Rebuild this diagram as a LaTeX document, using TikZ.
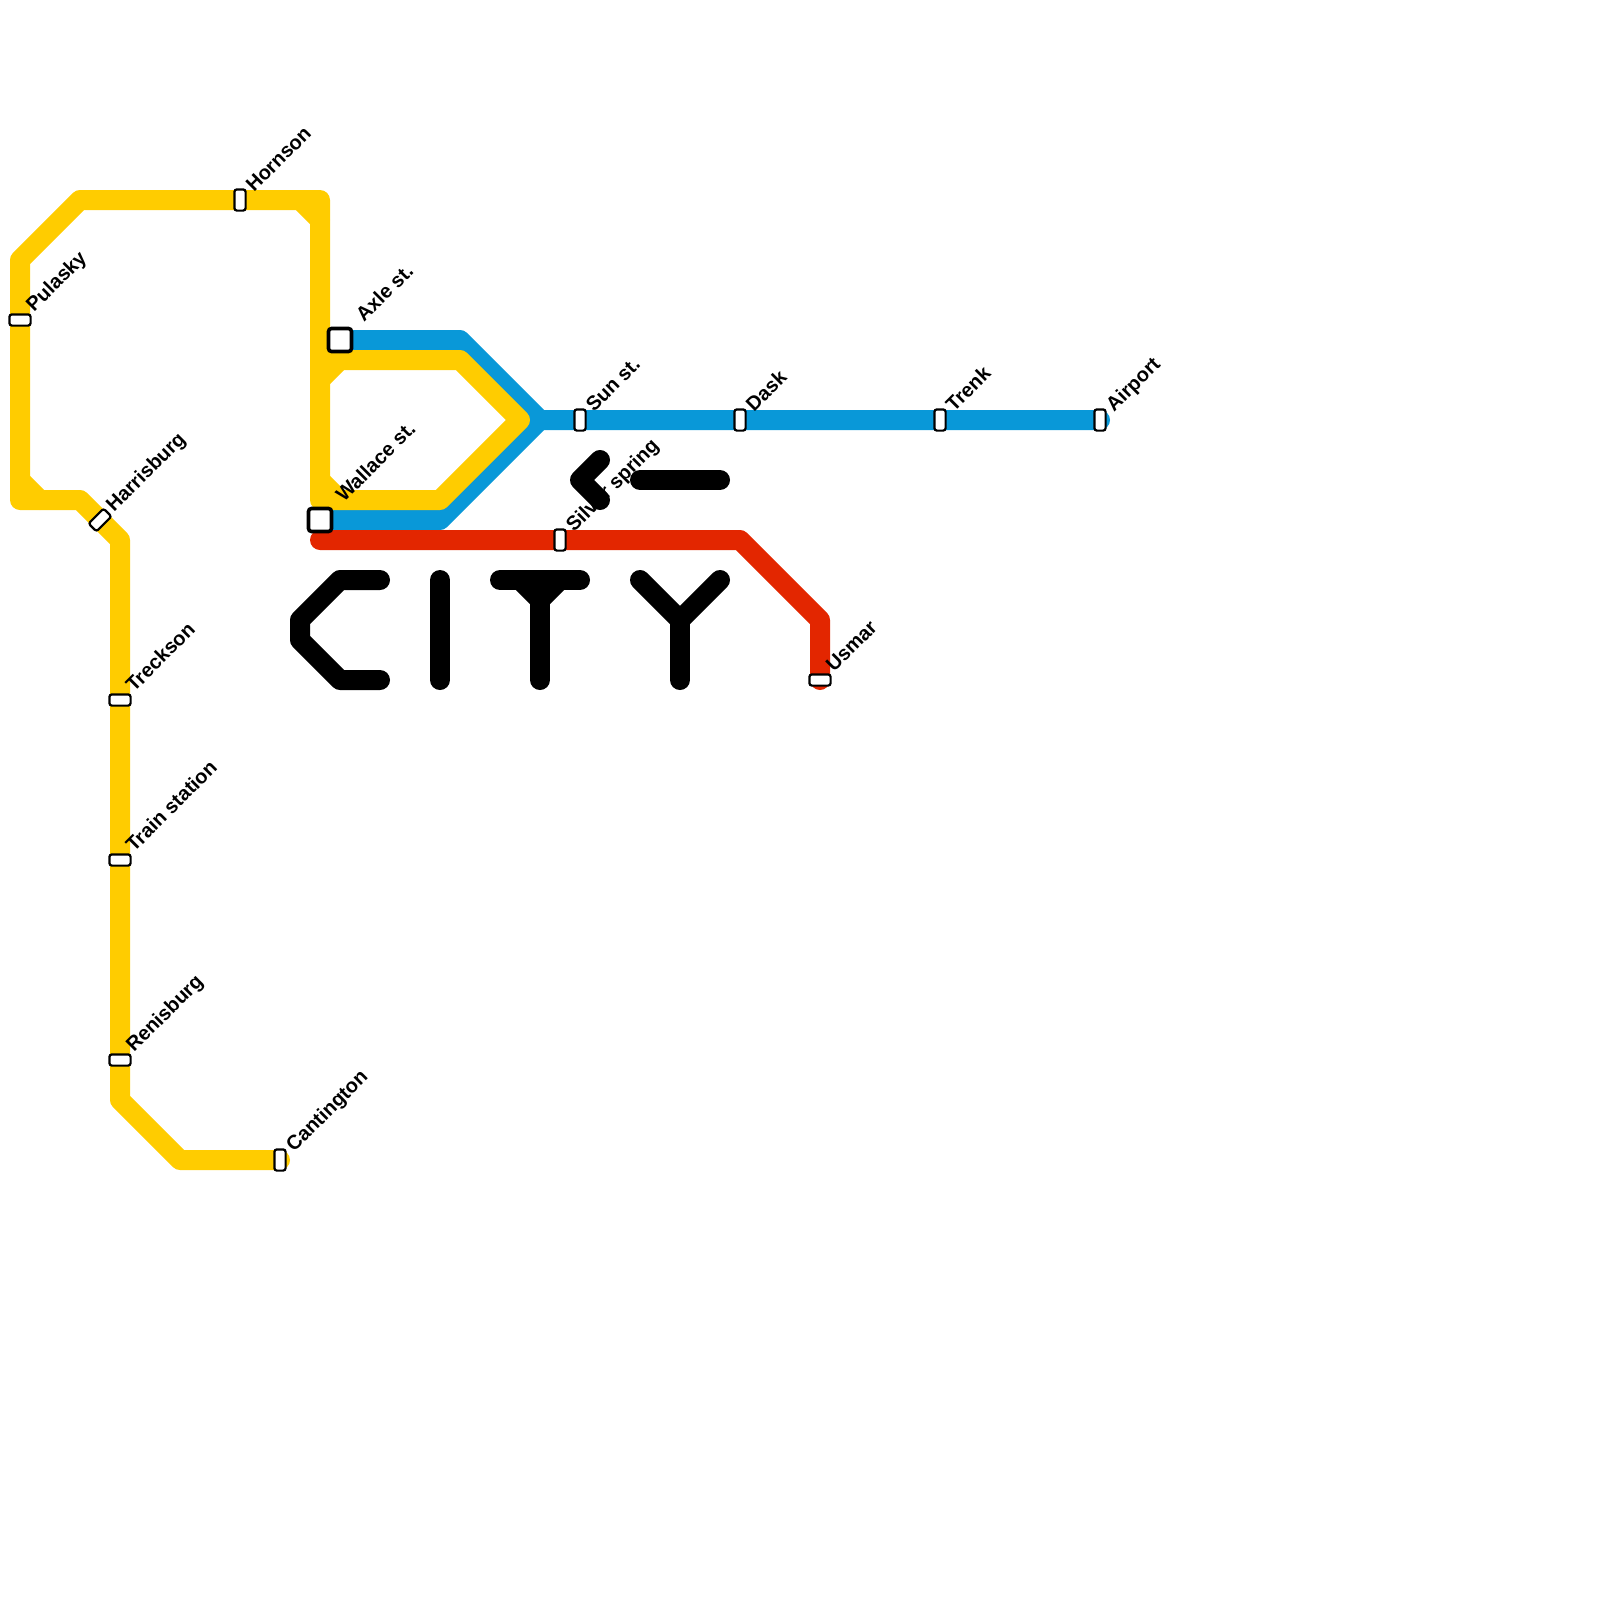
\documentclass[tikz,border=0pt]{standalone}
\usepackage{fontspec}
\setmainfont{Liberation Sans}
\usepackage{tikz}
\definecolor{lineyellow}{RGB}{255,204,0}
\definecolor{lineblue}{RGB}{9,152,216}
\definecolor{linered}{RGB}{227,38,0}
\begin{document}
\begin{tikzpicture}[
    x=20pt, y=-20pt,
    track/.style={line width=20pt, line cap=round, line join=round},
    yellowline/.style={track, draw=lineyellow},
    blueline/.style={track, draw=lineblue},
    redline/.style={track, draw=linered},
    letter/.style={track, draw=black},
    stopbox/.style={rectangle, draw=black, fill=white, line width=2.2pt, rounded corners=2.5pt, inner sep=0pt},
    stopv/.style={stopbox, minimum width=11.2pt, minimum height=21.2pt},
    stoph/.style={stopbox, minimum width=21.2pt, minimum height=11.2pt},
    hub/.style={rectangle, draw=black, fill=white, line width=3.6pt, rounded corners=3pt, inner sep=0pt, minimum size=23pt},
    lbl/.style={anchor=base west, font=\fontsize{20}{24}\selectfont\bfseries, inner sep=0pt, xshift=14pt, yshift=7pt, rotate=45},
    lblfar/.style={anchor=base west, font=\fontsize{20}{24}\selectfont\bfseries, inner sep=0pt, xshift=24pt, yshift=17pt, rotate=45}
]
\useasboundingbox (0,0) rectangle (80,80);

% Stations
\coordinate (cantington) at (14,58);
\coordinate (renisburg) at (6,53);
\coordinate (trainstation) at (6,43);
\coordinate (treckson) at (6,35);
\coordinate (harrisburg) at (5,26);
\coordinate (pulasky) at (1,16);
\coordinate (hornson) at (12,10);
\coordinate (axle) at (17,17);
\coordinate (wallace) at (16,26);
\coordinate (sun) at (29,21);
\coordinate (dask) at (37,21);
\coordinate (trenk) at (47,21);
\coordinate (airport) at (55,21);
\coordinate (silver) at (28,27);
\coordinate (usmar) at (41,34);

% Bends
\coordinate (fork) at (27,21);
\coordinate (redstart) at (16,27);
\coordinate (redbend) at (37,27);
\coordinate (redturn) at (41,31);

% Blue and red
\draw[blueline] (axle) -- (23,17) -- (fork) -- (airport);
\draw[blueline] (wallace) -- (22,26) -- (fork);
\draw[redline] (redstart) -- (silver) -- (redbend) -- (redturn) -- (usmar);

% Yellow
\draw[yellowline] (cantington) -- (9,58) -- (6,55) -- (renisburg) -- (trainstation) -- (treckson) -- (6,27) -- (harrisburg)
    -- (4,25) -- (1,25) -- (pulasky) -- (1,13) -- (4,10) -- (hornson) -- (16,10) -- (16,25) -- (22,25) -- (26,21) -- (23,18) -- (16,18);
\draw[yellowline] (15,10) -- (16,11);
\draw[yellowline] (1,24) -- (2,25);
\draw[yellowline] (16,19) -- (17,18);
\draw[yellowline] (16,24) -- (17,25);

% Stops
\node[stopv] (cantingtonstop) at (cantington) {};
\node[stoph] (renisburgstop) at (renisburg) {};
\node[stoph] (trainstationstop) at (trainstation) {};
\node[stoph] (trecksonstop) at (treckson) {};
\node[stoph, rotate=45] (harrisburgstop) at (harrisburg) {};
\node[stoph] (pulaskystop) at (pulasky) {};
\node[stopv] (hornsonstop) at (hornson) {};
\node[hub] (axlestop) at (axle) {};
\node[hub] (wallacestop) at (wallace) {};
\node[stopv] (sunstop) at (sun) {};
\node[stopv] (daskstop) at (dask) {};
\node[stopv] (trenkstop) at (trenk) {};
\node[stopv] (airportstop) at (airport) {};
\node[stopv] (silverstop) at (silver) {};
\node[stoph] (usmarstop) at (usmar) {};

% Labels
\node[lbl] (cantingtonlbl) at (cantington) {Cantington};
\node[lbl] (renisburglbl) at (renisburg) {Renisburg};
\node[lbl] (trainstationlbl) at (trainstation) {Train station};
\node[lbl] (trecksonlbl) at (treckson) {Treckson};
\node[lbl] (harrisburglbl) at (harrisburg) {Harrisburg};
\node[lbl] (pulaskylbl) at (pulasky) {Pulasky};
\node[lbl] (hornsonlbl) at (hornson) {Hornson};
\node[lblfar] (axlelbl) at (axle) {Axle st.};
\node[lblfar] (wallacelbl) at (wallace) {Wallace st.};
\node[lbl] (sunlbl) at (sun) {Sun st.};
\node[lbl] (dasklbl) at (dask) {Dask};
\node[lbl] (trenklbl) at (trenk) {Trenk};
\node[lbl] (airportlbl) at (airport) {Airport};
\node[lbl] (silverlbl) at (silver) {Silver spring};
\node[lbl] (usmarlbl) at (usmar) {Usmar};

% City
\draw[letter] (30,23) -- (29,24) -- (30,25);
\draw[letter] (32,24) -- (36,24);
\draw[letter] (19,29) -- (17,29) -- (15,31) -- (15,32) -- (17,34) -- (19,34);
\draw[letter] (22,29) -- (22,34);
\draw[letter] (25,29) -- (29,29);
\draw[letter] (27,29) -- (27,34);
\draw[letter] (26,29) -- (27,30) -- (28,29);
\draw[letter] (32,29) -- (34,31) -- (36,29);
\draw[letter] (34,31) -- (34,34);
\end{tikzpicture}
\end{document}
